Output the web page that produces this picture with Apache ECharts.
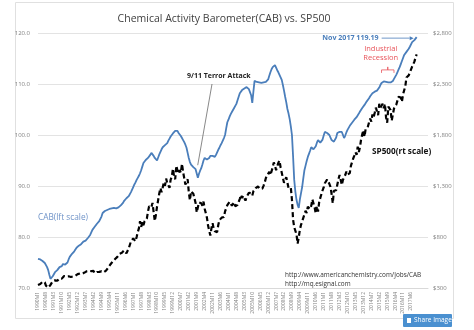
<!DOCTYPE html>
<html>
<head>
<meta charset="utf-8">
<script src="https://cdn.jsdelivr.net/npm/echarts@6/dist/echarts.min.js"></script>
<style>
html,body{margin:0;padding:0;background:#fff;}
#chart{width:474px;height:330px;}
</style>
</head>
<body>
<div id="chart"></div>
<script>
// Monthly categories, 1990M1 .. 2017M11
const startYear = 1990;
const monthCount = 335;
const months = [];
for (let i = 0; i < monthCount; i++) {
  months.push((startYear + Math.floor(i / 12)) + 'M' + (i % 12 + 1));
}
// the axis keeps a few empty slots after the last month
const axisPad = 10;
const axisCats = months.concat(new Array(axisPad).fill(''));

// Chemical Activity Barometer (left scale), one row per year
const cab = [
  75.7, 75.6, 75.6, 75.5, 75.3, 75.2, 74.9, 74.6, 74.1, 73.5, 72.6, 71.8,
  71.9, 72.3, 72.7, 73.1, 73.4, 73.5, 73.8, 74.1, 74.0, 74.3, 74.7, 74.9,
  74.6, 74.5, 75.0, 75.6, 76.1, 76.4, 76.7, 77.0, 77.2, 77.5, 77.9, 78.1,
  78.3, 78.4, 78.6, 78.9, 79.1, 79.2, 79.3, 79.4, 79.8, 80.1, 80.4, 80.9,
  81.4, 81.7, 82.0, 82.3, 82.6, 82.9, 83.1, 83.3, 84.0, 84.7, 84.9, 85.1,
  85.2, 85.3, 85.4, 85.5, 85.3, 85.6, 85.5, 85.7, 85.8, 85.6, 85.9, 85.8,
  86.0, 86.2, 86.1, 86.7, 87.1, 87.4, 87.6, 87.7, 88.0, 88.2, 88.8, 89.3,
  89.8, 90.3, 90.7, 91.2, 91.6, 92.0, 92.5, 93.1, 93.8, 94.5, 94.8, 95.1,
  95.3, 95.5, 95.8, 96.1, 96.5, 96.3, 95.9, 95.5, 95.2, 95.0, 95.6, 96.2,
  96.7, 97.2, 97.6, 97.8, 98.0, 98.2, 98.4, 98.9, 99.3, 99.7, 100.0, 100.3,
  100.6, 100.8, 101.0, 100.8, 100.4, 100.1, 99.8, 99.4, 99.0, 98.6, 98.1, 97.5,
  96.5, 95.5, 94.7, 94.2, 93.9, 93.7, 93.5, 93.3, 93.1, 91.6, 92.4, 93.0,
  93.5, 94.2, 95.0, 95.5, 95.4, 95.2, 95.1, 95.5, 95.9, 96.1, 95.9, 95.7,
  95.7, 96.1, 96.6, 97.1, 97.5, 98.0, 98.4, 98.9, 99.4, 100.0, 101.3, 102.5,
  103.0, 103.6, 104.1, 104.5, 104.9, 105.3, 105.7, 106.1, 106.8, 107.5, 108.2, 108.5,
  108.8, 109.0, 109.1, 109.3, 109.4, 109.2, 109.0, 109.0, 107.8, 106.3, 108.5, 110.6,
  110.5, 110.4, 110.6, 110.3, 110.4, 110.2, 110.5, 110.3, 110.2, 110.4, 110.2, 110.9,
  111.6, 112.3, 112.9, 113.3, 113.5, 113.7, 113.4, 112.7, 112.3, 111.8, 111.3, 110.8,
  109.8, 108.7, 107.5, 106.4, 105.1, 104.2, 103.1, 101.7, 100.0, 95.8, 91.2, 88.9,
  87.3, 86.3, 85.7, 87.4, 88.6, 89.8, 91.5, 93.1, 94.0, 94.9, 95.7, 96.3,
  96.9, 97.6, 97.4, 97.2, 97.1, 97.8, 98.5, 99.0, 98.8, 98.5, 98.4, 99.1,
  99.9, 100.6, 100.5, 100.4, 100.4, 100.0, 99.5, 99.0, 98.8, 98.7, 98.6, 99.5,
  100.4, 100.5, 100.6, 100.5, 100.6, 100.0, 99.4, 99.9, 100.5, 101.0, 101.4, 101.8,
  102.1, 102.4, 102.7, 103.0, 103.2, 103.5, 103.8, 104.2, 104.6, 104.9, 105.3, 105.6,
  105.9, 106.2, 106.6, 106.9, 107.2, 107.6, 107.9, 108.2, 108.3, 108.5, 108.6, 108.7,
  108.8, 109.3, 109.8, 110.2, 110.4, 110.5, 110.6, 110.4, 110.2, 110.3, 110.4, 110.3,
  110.4, 110.6, 111.0, 111.4, 111.8, 112.3, 112.8, 113.3, 113.9, 114.5, 115.1, 115.7,
  116.0, 116.3, 116.6, 116.9, 117.3, 117.5, 118.2, 118.4, 118.6, 118.9, 119.19
];

// S&P 500 monthly close (right scale), one row per year
const sp500 = [
  329, 331, 339, 331, 361, 358, 356, 323, 306, 304, 322, 330,
  343, 367, 375, 375, 390, 371, 387, 395, 388, 392, 375, 417,
  409, 413, 404, 415, 415, 408, 424, 414, 418, 419, 431, 436,
  439, 443, 452, 440, 450, 451, 448, 464, 459, 468, 462, 466,
  482, 467, 446, 451, 457, 444, 458, 475, 463, 472, 454, 459,
  470, 487, 501, 515, 533, 545, 562, 562, 584, 582, 605, 616,
  636, 640, 646, 654, 669, 671, 640, 652, 687, 705, 757, 741,
  786, 791, 757, 801, 848, 885, 954, 899, 947, 915, 955, 970,
  980, 1049, 1102, 1112, 1091, 1134, 1121, 957, 1017, 1099, 1164, 1229,
  1280, 1238, 1286, 1335, 1302, 1373, 1329, 1320, 1283, 1363, 1389, 1469,
  1394, 1366, 1499, 1452, 1421, 1455, 1431, 1518, 1437, 1429, 1315, 1320,
  1366, 1240, 1160, 1249, 1256, 1224, 1211, 1134, 1041, 1060, 1139, 1148,
  1130, 1107, 1147, 1077, 1067, 990, 912, 916, 815, 886, 936, 880,
  856, 841, 848, 917, 964, 975, 990, 1008, 996, 1051, 1058, 1112,
  1131, 1145, 1126, 1107, 1121, 1141, 1102, 1104, 1115, 1130, 1174, 1212,
  1181, 1204, 1181, 1157, 1192, 1191, 1234, 1220, 1229, 1207, 1249, 1248,
  1280, 1281, 1295, 1311, 1270, 1270, 1277, 1304, 1336, 1378, 1401, 1418,
  1438, 1407, 1421, 1482, 1531, 1503, 1455, 1474, 1527, 1549, 1481, 1468,
  1379, 1331, 1323, 1386, 1400, 1280, 1267, 1283, 1165, 969, 896, 903,
  826, 735, 798, 873, 919, 919, 987, 1021, 1057, 1036, 1096, 1115,
  1074, 1104, 1169, 1187, 1089, 1031, 1102, 1049, 1141, 1183, 1181, 1258,
  1286, 1327, 1326, 1364, 1345, 1321, 1292, 1219, 1131, 1253, 1247, 1258,
  1312, 1366, 1408, 1398, 1310, 1362, 1379, 1407, 1441, 1412, 1416, 1426,
  1498, 1515, 1569, 1598, 1631, 1606, 1686, 1633, 1682, 1757, 1806, 1848,
  1783, 1859, 1872, 1884, 1924, 1960, 1931, 2003, 1972, 2018, 2068, 2059,
  1995, 2105, 2068, 2086, 2107, 2063, 2104, 1972, 1920, 2079, 2080, 2044,
  1940, 1932, 2060, 2065, 2097, 2099, 2174, 2171, 2168, 2126, 2199, 2239,
  2279, 2364, 2363, 2384, 2412, 2423, 2470, 2472, 2519, 2560, 2590
];

const titleText = 'Chemical Activity Barometer(CAB) vs. SP500';
const cabTicks = { min: 70, max: 120, interval: 10 };
const spTicks = { min: 300, max: 2800, interval: 500 };
const attackMonth = '2001M9';
const recessionFrom = '2015M4';
const recessionTo = '2016M3';

const font = '"Open Sans", "Noto Sans", sans-serif';
const blue = '#4a7ebb';

const chart = echarts.init(document.getElementById('chart'), null, { renderer: 'canvas' });

chart.setOption({
  animation: false,
  backgroundColor: '#ffffff',
  textStyle: { fontFamily: font },
  title: {
    text: titleText,
    left: 219, top: 9, textAlign: 'center',
    textStyle: { fontSize: 10.5, fontWeight: 'normal', color: '#404040', fontFamily: font }
  },
  grid: { left: 38, right: 46, top: 33, bottom: 42, containLabel: false },
  xAxis: {
    type: 'category',
    data: axisCats,
    boundaryGap: false,
    axisLine: { lineStyle: { color: '#d9d9d9' } },
    axisTick: { show: false },
    axisLabel: {
      interval: 6, rotate: 90, fontSize: 5, color: '#7f7f7f', margin: 4, fontFamily: font
    },
    splitLine: { show: false }
  },
  yAxis: [
    {
      type: 'value', position: 'left',
      min: cabTicks.min, max: cabTicks.max, interval: cabTicks.interval,
      axisLine: { show: false }, axisTick: { show: false },
      axisLabel: { fontSize: 6, color: '#7f7f7f', margin: 8, formatter: v => v.toFixed(1) },
      splitLine: { lineStyle: { color: '#e3e3e3', width: 1 } }
    },
    {
      type: 'value', position: 'right',
      min: spTicks.min, max: spTicks.max, interval: spTicks.interval,
      axisLine: { show: false }, axisTick: { show: false },
      axisLabel: { fontSize: 6, color: '#7f7f7f', margin: 5,
        formatter: v => '$' + v.toLocaleString('en-US') },
      splitLine: { show: false }
    }
  ],
  series: [
    {
      name: 'SP500', type: 'line', yAxisIndex: 1, data: sp500,
      showSymbol: false, symbol: 'none',
      lineStyle: { color: '#000000', width: 2.2, type: [5, 3] },
      z: 2
    },
    {
      name: 'CAB', type: 'line', yAxisIndex: 0, data: cab,
      showSymbol: false, symbol: 'none',
      lineStyle: { color: blue, width: 1.8 },
      z: 3
    }
  ]
});

// Annotations anchored to data points
const toPx = (idx, v) => chart.convertToPixel({ xAxisIndex: 0, yAxisIndex: 0 }, [idx, v]);
const lastIdx = cab.length - 1;
const endPt = toPx(lastIdx, cab[lastIdx]);
const atkIdx = months.indexOf(attackMonth);
const atkPt = toPx(atkIdx, cab[atkIdx]);
const rA = months.indexOf(recessionFrom);
const rB = months.indexOf(recessionTo);
const recA = toPx(rA, cab[rA]);
const recB = toPx(rB, cab[rB]);
const red = '#e8535a';
const braceY = Math.min(recA[1], recB[1]) - 9;
const braceMid = (recA[0] + recB[0]) / 2;

chart.setOption({
  graphic: [
    // outer frame
    { type: 'rect', shape: { x: 15.5, y: 2.5, width: 438, height: 316 },
      style: { fill: null, stroke: '#e0e0e0', lineWidth: 1 }, z: 0, silent: true },
    // Nov 2017 label and arrow
    { type: 'text', x: endPt[0] - 38, y: endPt[1] + 1,
      style: { text: 'Nov 2017 119.19', font: 'bold 7.1px ' + font, fill: blue,
        textAlign: 'right', textVerticalAlign: 'middle' } },
    { type: 'line', shape: { x1: endPt[0] - 35, y1: endPt[1] + 1, x2: endPt[0] - 7, y2: endPt[1] + 1 },
      style: { stroke: blue, lineWidth: 0.8 } },
    { type: 'polygon', shape: { points: [[endPt[0] - 3, endPt[1] + 1], [endPt[0] - 7, endPt[1] - 1], [endPt[0] - 7, endPt[1] + 3]] },
      style: { fill: blue } },
    // Industrial Recession
    { type: 'text', x: braceMid - 7, y: braceY - 26,
      style: { text: 'Industrial\nRecession', font: '7.5px ' + font, fill: red,
        textAlign: 'center', lineHeight: 9.5 } },
    { type: 'polyline', shape: { points: [
        [recA[0], braceY + 3], [recA[0], braceY], [braceMid, braceY],
        [braceMid, braceY - 3], [braceMid, braceY],
        [recB[0], braceY], [recB[0], braceY + 3]] },
      style: { stroke: red, lineWidth: 0.8, fill: null } },
    // 9/11 annotation
    { type: 'text', x: 187, y: 72.5,
      style: { text: '9/11 Terror Attack', font: 'bold 7px ' + font, fill: '#222' } },
    { type: 'line', shape: { x1: 212, y1: 84, x2: atkPt[0] + 1, y2: atkPt[1] - 5 },
      style: { stroke: '#555', lineWidth: 0.7 } },
    // series captions
    { type: 'text', x: 38, y: 214,
      style: { text: 'CAB(lft scale)', font: '8.3px ' + font, fill: '#6f93c8' } },
    { type: 'text', x: 372, y: 148,
      style: { text: 'SP500(rt scale)', font: 'bold 8.2px ' + font, fill: '#111' } },
    // sources
    { type: 'text', x: 285, y: 271,
      style: { text: 'http://www.americanchemistry.com/Jobs/CAB\nhttp://mq.esignal.com',
        font: '6.4px ' + font, fill: '#333', lineHeight: 9 } },
    // share button
    { type: 'rect', shape: { x: 403, y: 314, width: 49, height: 13, r: 1 },
      style: { fill: '#4a90d0' }, z: 10 },
    { type: 'rect', shape: { x: 407, y: 318, width: 4, height: 5 },
      style: { fill: '#ffffff' }, z: 11 },
    { type: 'text', x: 414, y: 320.5, z: 11,
      style: { text: 'Share Image', font: '6.5px ' + font, fill: '#ffffff', textVerticalAlign: 'middle' } }
  ]
});
</script>
</body>
</html>
